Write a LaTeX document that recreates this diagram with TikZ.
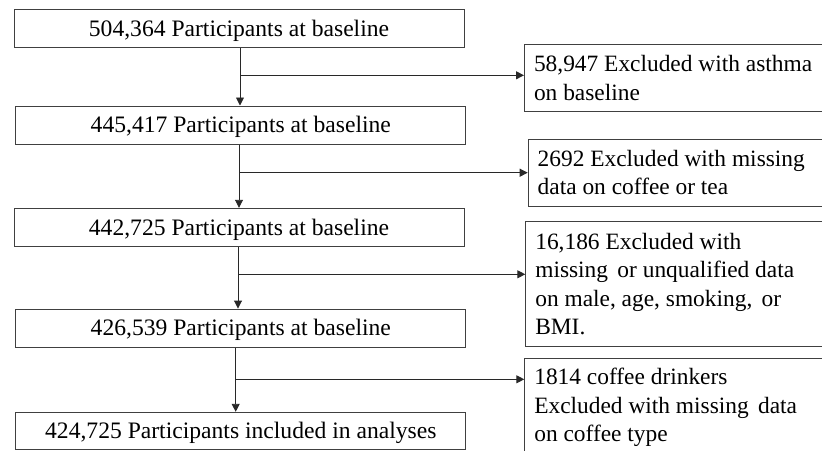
\documentclass[tikz,border=0pt]{standalone}
\usepackage{fontspec}
\setmainfont{Liberation Serif}
\usetikzlibrary{arrows.meta}

\begin{document}
\begin{tikzpicture}[x=1pt,y=1pt,yscale=-1,xscale=1,
  every node/.style={font=\fontsize{23.6}{28.3}\selectfont},
  stagebox/.style={draw={rgb,255:red,64;green,64;blue,64},line width=1pt,minimum width=450pt,inner sep=0pt,text height=16pt,text depth=0.5pt},
  exclbox/.style={draw={rgb,255:red,64;green,64;blue,64},line width=1pt,anchor=north west,text width=310pt,inner xsep=9.5pt,inner ysep=0pt,align=flush left,font=\fontsize{23.4}{28.3}\selectfont},
  flow/.style={draw={rgb,255:red,40;green,40;blue,40},line width=0.9pt,-{Triangle[length=8pt,width=8pt]}}]
\useasboundingbox (0,0) rectangle (822,450);
\clip (0,0) rectangle (822,450);

%Shape: Rectangle [stages]
\node[stagebox,minimum height=37.7pt] (b1) at (239,28.8) {504,364 Participants at baseline};
\node[stagebox,minimum height=38pt] (b2) at (240.8,125) {445,417 Participants at baseline};
\node[stagebox,minimum height=38.4pt] (b3) at (239,227.5) {442,725 Participants at baseline};
\node[stagebox,minimum height=38.3pt] (b4) at (240.8,328.2) {426,539 Participants at baseline};
\node[stagebox,minimum height=37pt] (b5) at (240.8,430.8) {424,725 Participants included in analyses};

%Shape: Rectangle [exclusions]
\node[exclbox,minimum height=66.7pt] (r1) at (524,44) {58,947 Excluded with asthma\\on baseline};
\node[exclbox,minimum height=67pt] (r2) at (527.7,138.7) {2692 Excluded with missing\\data on coffee or tea};
\node[exclbox,minimum height=125pt] (r3) at (525.3,221) {16,186 Excluded with\\missing\hspace{3.5pt} or unqualified data\\on male, age, smoking,\hspace{3.5pt} or\\BMI.};
\node[exclbox,minimum height=98.2pt] (r4) at (524.3,357.7) {1814 coffee drinkers\\Excluded with missing\hspace{3.5pt} data\\on coffee type};

% junctions
\coordinate (j1) at (240,75.3);
\coordinate (j2) at (239,172.7);
\coordinate (j3) at (238,274.3);
\coordinate (j4) at (235.7,379.3);

%Straight Lines
\draw[flow] (b1.south -| j1) -- (b2.north -| j1);
\draw[flow] (b2.south -| j2) -- (b3.north -| j2);
\draw[flow] (b3.south -| j3) -- (b4.north -| j3);
\draw[flow] (b4.south -| j4) -- (b5.north -| j4);

%Straight Lines
\draw[flow] (j1) -- (j1 -| r1.west);
\draw[flow] (j2) -- (j2 -| r2.west);
\draw[flow] (j3) -- (j3 -| r3.west);
\draw[flow] (j4) -- (j4 -| r4.west);

\end{tikzpicture}
\end{document}
